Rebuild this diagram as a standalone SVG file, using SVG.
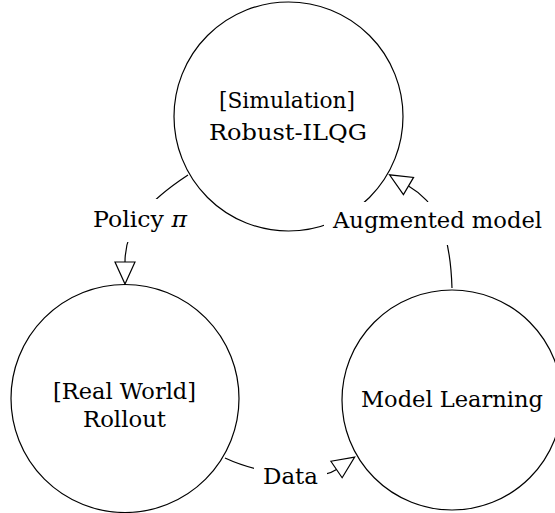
<svg xmlns="http://www.w3.org/2000/svg" width="555" height="513" viewBox="0 0 555 513">
<style>
.node{fill:#fff;stroke:#000;stroke-width:1.2}
.edge{fill:none;stroke:#000;stroke-width:1.2}
.lbl{fill:#fff;stroke:none}
</style>
<defs>
<marker id="arr" markerUnits="userSpaceOnUse" markerWidth="30" markerHeight="30" refX="0" refY="11" orient="auto" viewBox="-2 0 30 22">
<path d="M0,1 L22,11 L0,21 Z" fill="#fff" stroke="#000" stroke-width="1.2"/>
</marker>
</defs>
<g font-family="DejaVu Serif, serif" font-size="23" text-anchor="middle" fill="#000">
<g id="sim">
<circle class="node" cx="288.5" cy="116.5" r="114.5"/>
<text x="287" y="108" textLength="136" lengthAdjust="spacingAndGlyphs">[Simulation]</text>
<text x="288" y="140" textLength="158" lengthAdjust="spacingAndGlyphs">Robust-ILQG</text>
</g>
<g id="real">
<circle class="node" cx="125" cy="398.5" r="114"/>
<text x="124.5" y="399" textLength="143" lengthAdjust="spacingAndGlyphs">[Real World]</text>
<text x="124.5" y="427" textLength="83" lengthAdjust="spacingAndGlyphs">Rollout</text>
</g>
<g id="learn">
<circle class="node" cx="452" cy="400" r="110"/>
<text x="452" y="407" textLength="182" lengthAdjust="spacingAndGlyphs">Model Learning</text>
</g>
<g id="connectors">
<path class="edge" d="M188,175 C150,200 125,225 125,262" marker-end="url(#arr)"/>
<path class="edge" d="M225,458 C255,472 316,483.5 336.5,469.5" marker-end="url(#arr)"/>
<path class="edge" d="M452,288 C450,225 434,201 408.5,186" marker-end="url(#arr)"/>
<rect class="lbl" x="86" y="199" width="108" height="43"/>
<text x="140" y="227" textLength="94" lengthAdjust="spacingAndGlyphs">Policy <tspan font-style="italic">π</tspan></text>
<rect class="lbl" x="324" y="202" width="226" height="43"/>
<text x="437.5" y="228" textLength="209" lengthAdjust="spacingAndGlyphs">Augmented model</text>
<rect class="lbl" x="254" y="459" width="73" height="33"/>
<text x="290.5" y="484" textLength="55" lengthAdjust="spacingAndGlyphs">Data</text>
</g>
</g>
</svg>
